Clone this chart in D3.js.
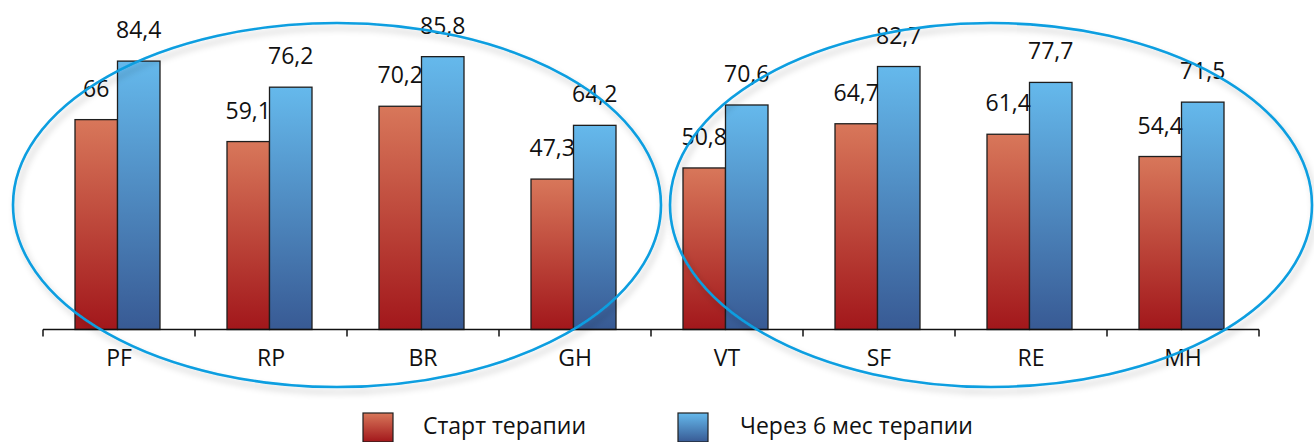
<!DOCTYPE html>
<html>
<head>
<meta charset="utf-8">
<script src="https://cdn.jsdelivr.net/npm/d3@7"></script>
<style>
  html, body { margin: 0; padding: 0; background: #fff; }
  svg { display: block; }
  text { font-family: "Open Sans", sans-serif; fill: #111; }
</style>
</head>
<body>
<div id="chart"></div>
<script>
const categories = ["PF", "RP", "BR", "GH", "VT", "SF", "RE", "MH"];
const seriesNames = ["Старт терапии", "Через 6 мес терапии"];
const startValues = [66, 59.1, 70.2, 47.3, 50.8, 64.7, 61.4, 54.4];
const afterValues = [84.4, 76.2, 85.8, 64.2, 70.6, 82.7, 77.7, 71.5];
const valueLabels = [
  ["66", "59,1", "70,2", "47,3", "50,8", "64,7", "61,4", "54,4"],
  ["84,4", "76,2", "85,8", "64,2", "70,6", "82,7", "77,7", "71,5"]
];

function drawChart(container) {
  const width = 1314, height = 442;
  const svg = d3.select(container).append("svg")
    .attr("width", width)
    .attr("height", height);

  const defs = svg.append("defs");
  const grads = [
    { id: "gRed", top: "#d8775a", bottom: "#a2171b" },
    { id: "gBlue", top: "#65b9ec", bottom: "#385a94" }
  ];
  grads.forEach(g => {
    const lg = defs.append("linearGradient")
      .attr("id", g.id).attr("x1", 0).attr("y1", 0).attr("x2", 0).attr("y2", 1);
    lg.append("stop").attr("offset", "0%").attr("stop-color", g.top);
    lg.append("stop").attr("offset", "100%").attr("stop-color", g.bottom);
  });
  const f = defs.append("filter").attr("id", "shadow")
    .attr("x", "-10%").attr("y", "-10%").attr("width", "120%").attr("height", "130%");
  f.append("feDropShadow")
    .attr("dx", 3).attr("dy", 5).attr("stdDeviation", 3)
    .attr("flood-color", "#000").attr("flood-opacity", 0.22);

  const x0 = d3.scaleBand().domain(categories).range([43, 1259]);
  const x1 = d3.scaleBand().domain([0, 1]).range([32, 117]);
  const y = d3.scaleLinear().domain([0, 100]).range([329.5, 11.5]);

  const data = categories.map((c, i) => ({
    cat: c, vals: [startValues[i], afterValues[i]], i
  }));

  const groups = svg.append("g").selectAll("g")
    .data(data)
    .join("g")
      .attr("transform", d => `translate(${x0(d.cat)},0)`);

  groups.selectAll("rect")
    .data(d => d.vals.map((v, s) => ({ v, s })))
    .join("rect")
      .attr("x", d => x1(d.s))
      .attr("width", x1.bandwidth())
      .attr("y", d => y(d.v))
      .attr("height", d => y(0) - y(d.v))
      .attr("fill", d => d.s === 0 ? "url(#gRed)" : "url(#gBlue)")
      .attr("stroke", "#1e1e1e")
      .attr("stroke-width", 1.3);

  groups.selectAll("text.val")
    .data(d => d.vals.map((v, s) => ({ v, s, i: d.i })))
    .join("text")
      .attr("class", "val")
      .attr("x", d => x1(d.s) + x1.bandwidth() / 2)
      .attr("y", d => y(d.v) - 23)
      .attr("text-anchor", "middle")
      .style("font-size", "23px")
      .text(d => valueLabels[d.s][d.i]);

  // axis
  const axis = svg.append("g").attr("transform", `translate(0,${y(0)})`);
  axis.append("line")
    .attr("x1", x0.range()[0]).attr("x2", x0.range()[1])
    .attr("stroke", "#111").attr("stroke-width", 1.5);
  const tickXs = categories.map(c => x0(c)).concat([x0.range()[1]]);
  axis.selectAll("line.tick")
    .data(tickXs)
    .join("line")
      .attr("class", "tick")
      .attr("x1", d => d).attr("x2", d => d)
      .attr("y1", 0).attr("y2", 7)
      .attr("stroke", "#111").attr("stroke-width", 1.5);
  axis.selectAll("text")
    .data(categories)
    .join("text")
      .attr("x", d => x0(d) + x0.bandwidth() / 2)
      .attr("y", 36)
      .attr("text-anchor", "middle")
      .style("font-size", "23px")
      .text(d => d);

  // ellipses
  const ellipses = [
    { cx: x0("PF") + 294, cy: 205, rx: 324, ry: 182 },
    { cx: x0("VT") + 340, cy: 205, rx: 321, ry: 182 }
  ];
  svg.append("g").selectAll("ellipse")
    .data(ellipses)
    .join("ellipse")
      .attr("cx", d => d.cx).attr("cy", d => d.cy)
      .attr("rx", d => d.rx).attr("ry", d => d.ry)
      .attr("fill", "none")
      .attr("stroke", "#0a9ee0")
      .attr("stroke-width", 2.6)
      .attr("filter", "url(#shadow)");

  // legend
  const legendX = [363, 678];
  const legend = svg.append("g").selectAll("g")
    .data(seriesNames)
    .join("g")
      .attr("transform", (d, i) => `translate(${legendX[i]},413)`);
  legend.append("rect")
    .attr("width", 30).attr("height", 29)
    .attr("fill", (d, i) => i === 0 ? "url(#gRed)" : "url(#gBlue)")
    .attr("stroke", "#1e1e1e").attr("stroke-width", 1.2);
  legend.append("text")
    .attr("x", (d, i) => i === 0 ? 60 : 62)
    .attr("y", 21)
    .style("font-size", "23px")
    .text(d => d);
}

drawChart(document.getElementById("chart"));
</script>
</body>
</html>
